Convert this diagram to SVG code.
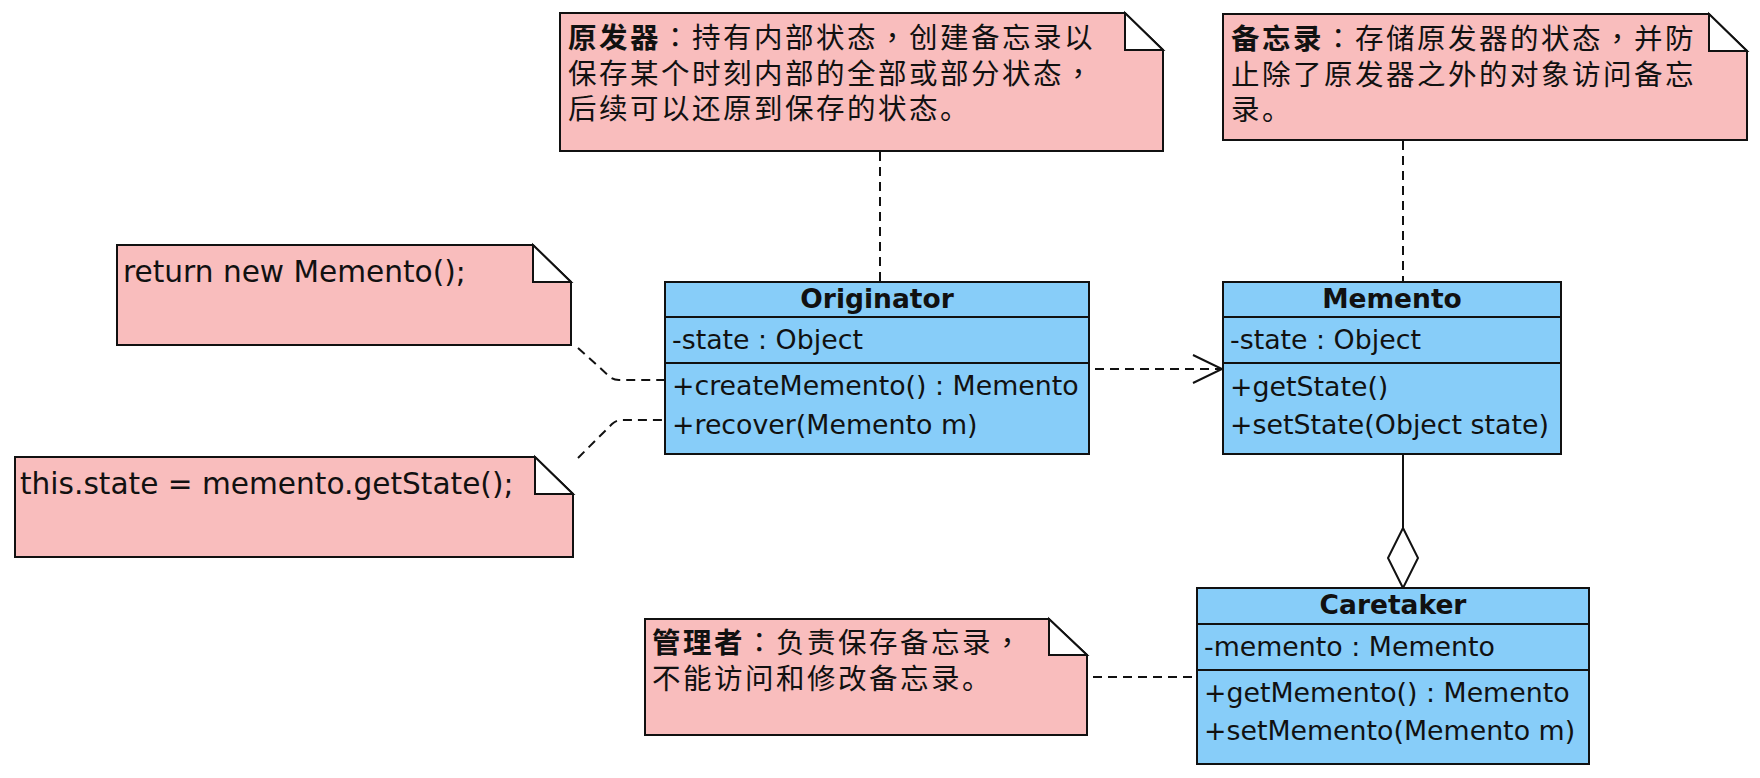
<svg xmlns="http://www.w3.org/2000/svg" width="1760" height="778" viewBox="0 0 1760 778">
<style>
  .note { fill: #F9BDBD; stroke: #111; stroke-width: 2; }
  .fold { fill: #FFFFFF; stroke: #111; stroke-width: 2; stroke-linejoin: miter; }
  .cls { fill: #87CDF9; stroke: #111; stroke-width: 2; }
  .div { stroke: #111; stroke-width: 2; }
  .t { font-family: "DejaVu Sans", "Liberation Sans", sans-serif; font-size: 26.8px; fill: #111; }
  .h { font-family: "DejaVu Sans", "Liberation Sans", sans-serif; font-size: 26.5px; font-weight: bold; fill: #111; text-anchor: middle; }
  .nt { font-family: "DejaVu Sans", "Liberation Sans", sans-serif; font-size: 29.6px; fill: #111; }
  .cjk { font-family: "Liberation Sans", "Noto Sans CJK SC", sans-serif; font-size: 28.5px; letter-spacing: 2.5px; fill: #111; }
  .b { font-weight: bold; }
  .p { font-family: "Liberation Sans", "Noto Sans CJK TC", "Noto Sans CJK SC", sans-serif; }
  .dash { fill: none; stroke: #111; stroke-width: 2; stroke-dasharray: 9 6; }
  .solid { fill: none; stroke: #111; stroke-width: 2; }
</style>

<g id="connectors">
  <path class="dash" d="M880,152 L880,281"/>
  <path class="dash" d="M1403,141 L1403,281"/>
  <path class="dash" d="M578,348 L609,376 Q613,380 619,380 L665,380"/>
  <path class="dash" d="M578,458 L612,424 Q616,420 622,420 L665,420"/>
  <path class="dash" d="M1095,369 L1220,369"/>
  <path class="solid" d="M1193,355 L1222,369 L1193,383"/>
  <path class="solid" d="M1403,455 L1403,528"/>
  <path class="solid" d="M1403,528 L1418,558 L1403,588 L1388,558 Z" fill="#FFFFFF"/>
  <path class="dash" d="M1093,677 L1196,677"/>
</g>

<g id="note-originator">
  <path class="note" d="M560,13 L1125,13 L1163,50 L1163,151 L560,151 Z"/>
  <path class="fold" d="M1125,13 L1125,50 L1163,50 Z"/>
  <text class="cjk" x="568" y="48"><tspan class="b">原发器</tspan><tspan class="p">：</tspan>持有内部状态<tspan class="p">，</tspan>创建备忘录以</text>
  <text class="cjk" x="568" y="84">保存某个时刻内部的全部或部分状态<tspan class="p">，</tspan></text>
  <text class="cjk" x="568" y="119">后续可以还原到保存的状态。</text>
</g>

<g id="note-memento">
  <path class="note" d="M1223,14 L1709,14 L1747,51 L1747,140 L1223,140 Z"/>
  <path class="fold" d="M1709,14 L1709,51 L1747,51 Z"/>
  <text class="cjk" x="1231" y="49"><tspan class="b">备忘录</tspan><tspan class="p">：</tspan>存储原发器的状态<tspan class="p">，</tspan>并防</text>
  <text class="cjk" x="1231" y="85">止除了原发器之外的对象访问备忘</text>
  <text class="cjk" x="1231" y="120">录。</text>
</g>

<g id="note-create">
  <path class="note" d="M117,245 L533,245 L571,282 L571,345 L117,345 Z"/>
  <path class="fold" d="M533,245 L533,282 L571,282 Z"/>
  <text class="nt" x="123" y="282">return new Memento();</text>
</g>

<g id="note-recover">
  <path class="note" d="M15,457 L535,457 L573,494 L573,557 L15,557 Z"/>
  <path class="fold" d="M535,457 L535,494 L573,494 Z"/>
  <text class="nt" x="20" y="494">this.state = memento.getState();</text>
</g>

<g id="note-caretaker">
  <path class="note" d="M645,619 L1049,619 L1087,655 L1087,735 L645,735 Z"/>
  <path class="fold" d="M1049,619 L1049,655 L1087,655 Z"/>
  <text class="cjk" x="652" y="653"><tspan class="b">管理者</tspan><tspan class="p">：</tspan>负责保存备忘录<tspan class="p">，</tspan></text>
  <text class="cjk" x="652" y="689">不能访问和修改备忘录。</text>
</g>

<g id="originator">
  <rect class="cls" x="665" y="282" width="424" height="172"/>
  <line class="div" x1="665" y1="317" x2="1089" y2="317"/>
  <line class="div" x1="665" y1="363" x2="1089" y2="363"/>
  <text class="h" x="877" y="308">Originator</text>
  <text class="t" x="672" y="349">-state : Object</text>
  <text class="t" x="672" y="395">+createMemento() : Memento</text>
  <text class="t" x="672" y="434">+recover(Memento m)</text>
</g>

<g id="memento">
  <rect class="cls" x="1223" y="282" width="338" height="172"/>
  <line class="div" x1="1223" y1="317" x2="1561" y2="317"/>
  <line class="div" x1="1223" y1="363" x2="1561" y2="363"/>
  <text class="h" x="1392" y="308">Memento</text>
  <text class="t" x="1230" y="349">-state : Object</text>
  <text class="t" x="1230" y="396">+getState()</text>
  <text class="t" x="1230" y="434">+setState(Object state)</text>
</g>

<g id="caretaker">
  <rect class="cls" x="1197" y="588" width="392" height="176"/>
  <line class="div" x1="1197" y1="624" x2="1589" y2="624"/>
  <line class="div" x1="1197" y1="670" x2="1589" y2="670"/>
  <text class="h" x="1393" y="614">Caretaker</text>
  <text class="t" x="1204" y="656">-memento : Memento</text>
  <text class="t" x="1204" y="702">+getMemento() : Memento</text>
  <text class="t" x="1204" y="740">+setMemento(Memento m)</text>
</g>
</svg>
